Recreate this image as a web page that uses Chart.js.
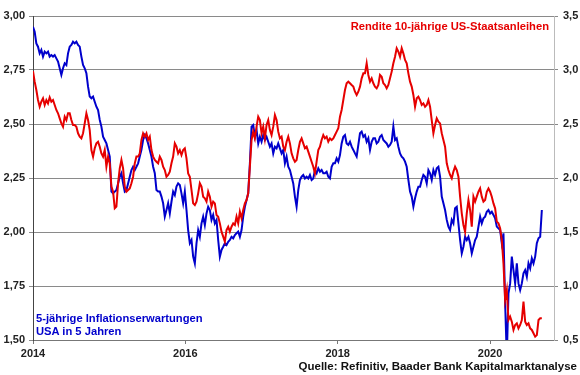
<!DOCTYPE html>
<html>
<head>
<meta charset="utf-8">
<script src="https://cdn.jsdelivr.net/npm/chart.js@4"></script>
<style>
  html, body { margin: 0; padding: 0; background: #fff; }
  #wrap { position: relative; width: 580px; height: 375px; }
  .lbl { position: absolute; font-family: "Liberation Sans", Arial, sans-serif; font-weight: bold; white-space: nowrap; }
  #redLbl { right: 31px; top: 20px; font-size: 11.2px; line-height: 13px; color: #e60000; }
  #blueLbl { left: 36px; top: 312px; font-size: 11.2px; line-height: 13.3px; color: #0000cc; }
  #src { right: 3px; top: 359px; font-size: 11.5px; line-height: 14px; color: #111; }
</style>
</head>
<body>
<div id="wrap">
  <canvas id="c" width="580" height="375"></canvas>
  <div class="lbl" id="redLbl">Rendite 10-jährige US-Staatsanleihen</div>
  <div class="lbl" id="blueLbl">5-jährige Inflationserwartungen<br>USA in 5 Jahren</div>
  <div class="lbl" id="src">Quelle: Refinitiv, Baader Bank Kapitalmarktanalyse</div>
</div>
<script>
// Time base: first observation at start of 2014, one observation every 8 days
const startYear = 2014;
const stepDays = 8;
const yearTicks = [2014, 2016, 2018, 2020];

// 5-year inflation expectations in 5 years (left axis, %)
const inflationExp = [
  2.95, 2.927, 2.873, 2.858, 2.827, 2.843, 2.812, 2.835, 2.827, 2.835,
  2.812, 2.819, 2.812, 2.819, 2.804, 2.789, 2.758, 2.727, 2.758, 2.781,
  2.773, 2.827, 2.858, 2.866, 2.881, 2.873, 2.881, 2.866, 2.858, 2.812,
  2.773, 2.758, 2.735, 2.673, 2.627, 2.619, 2.627, 2.603, 2.580, 2.565,
  2.519, 2.488, 2.441, 2.426, 2.410, 2.380, 2.349, 2.187, 2.179, 2.187,
  2.194, 2.225, 2.256, 2.272, 2.225, 2.187, 2.194, 2.225, 2.256, 2.287,
  2.302, 2.287, 2.302, 2.318, 2.349, 2.380, 2.426, 2.449, 2.434, 2.410,
  2.380, 2.349, 2.302, 2.272, 2.194, 2.187,
  2.187, 2.164, 2.133, 2.071, 2.102, 2.133, 2.086, 2.140, 2.187, 2.171,
  2.210, 2.225, 2.218, 2.179, 2.133, 2.187, 2.102, 2.009, 1.948, 1.963,
  1.886, 1.855, 1.948, 2.009, 1.978, 2.040, 2.071, 2.032, 2.086, 2.117,
  2.102, 2.056, 2.079, 2.040, 2.056, 1.963, 1.886, 1.917, 1.932, 1.948,
  1.940, 1.955, 1.963, 1.978, 1.971, 1.986, 1.994, 2.002, 1.978, 2.009,
  2.071, 2.117, 2.148, 2.179, 2.318, 2.488, 2.495, 2.441, 2.472, 2.410,
  2.441, 2.418, 2.449, 2.426, 2.441, 2.418, 2.395, 2.410, 2.364, 2.395,
  2.387, 2.410, 2.387, 2.364, 2.380, 2.318, 2.349, 2.302,
  2.287, 2.256, 2.225, 2.164, 2.117, 2.194, 2.241, 2.256, 2.264, 2.248,
  2.256, 2.248, 2.264, 2.241, 2.248, 2.287, 2.272, 2.295, 2.279, 2.287,
  2.272, 2.272, 2.279, 2.256, 2.248, 2.302, 2.318, 2.318, 2.341, 2.326,
  2.356, 2.410, 2.441, 2.449, 2.410, 2.403, 2.418, 2.395, 2.380, 2.364,
  2.349, 2.403, 2.457, 2.465, 2.441, 2.449, 2.418, 2.434, 2.380, 2.418,
  2.434, 2.434, 2.410, 2.418, 2.441, 2.449, 2.426, 2.418, 2.410, 2.395,
  2.403, 2.418, 2.488, 2.426, 2.434, 2.395, 2.364, 2.349, 2.341, 2.326,
  2.302, 2.241, 2.187, 2.164, 2.117, 2.156, 2.187, 2.210,
  2.210, 2.241, 2.264, 2.256, 2.225, 2.287, 2.272, 2.241, 2.287, 2.264,
  2.295, 2.302, 2.256, 2.164, 2.133, 2.102, 2.056, 2.025, 2.009, 2.056,
  2.040, 2.110, 2.117, 2.040, 1.963, 1.901, 1.932, 1.978, 1.963, 1.978,
  1.948, 1.901, 1.932, 1.963, 1.978, 2.025, 2.071, 2.040, 2.063, 2.071,
  2.094, 2.102, 2.086, 2.094, 2.079, 2.063, 2.025, 2.017, 2.009, 1.948,
  1.994, 1.670, 1.420, 1.716, 1.762, 1.886, 1.824, 1.762, 1.855, 1.762,
  1.731, 1.762, 1.809, 1.824, 1.793, 1.855, 1.832, 1.878, 1.855, 1.886,
  1.948, 1.971, 1.978, 2.102
];

// 10-year US Treasury yield (right axis, %)
const treasury10y = [
  2.99, 2.892, 2.815, 2.722, 2.660, 2.707, 2.738, 2.676, 2.722, 2.691,
  2.747, 2.707, 2.722, 2.676, 2.630, 2.599, 2.552, 2.506, 2.475, 2.568,
  2.537, 2.599, 2.599, 2.537, 2.491, 2.491, 2.475, 2.414, 2.383, 2.367,
  2.414, 2.506, 2.599, 2.537, 2.444, 2.259, 2.198, 2.275, 2.321, 2.336,
  2.290, 2.228, 2.198, 2.259, 2.105, 2.198, 2.136, 1.920, 1.873, 1.719,
  1.735, 1.951, 2.089, 2.167, 2.089, 1.920, 1.873, 1.889, 1.904, 1.951,
  2.012, 2.136, 2.198, 2.198, 2.228, 2.352, 2.414, 2.383, 2.414, 2.352,
  2.383, 2.259, 2.198, 2.167, 2.151, 2.136,
  2.198, 2.167, 2.105, 2.074, 2.012, 2.028, 2.059, 2.136, 2.198, 2.321,
  2.290, 2.228, 2.259, 2.213, 2.259, 2.275, 2.182, 2.043, 2.012, 1.889,
  1.765, 1.750, 1.781, 1.858, 1.951, 1.920, 1.827, 1.812, 1.781, 1.873,
  1.827, 1.735, 1.781, 1.765, 1.657, 1.642, 1.580, 1.503, 1.457, 1.410,
  1.519, 1.549, 1.503, 1.549, 1.580, 1.565, 1.642, 1.580, 1.688, 1.627,
  1.704, 1.765, 1.796, 1.858, 2.105, 2.352, 2.429, 2.367, 2.475, 2.568,
  2.537, 2.414, 2.475, 2.367, 2.491, 2.537, 2.444, 2.398, 2.475, 2.583,
  2.537, 2.429, 2.367, 2.383, 2.290, 2.259, 2.336, 2.383,
  2.321, 2.228, 2.182, 2.151, 2.167, 2.259, 2.336, 2.367, 2.321, 2.275,
  2.290, 2.244, 2.198, 2.151, 2.105, 2.043, 2.151, 2.259, 2.290, 2.352,
  2.398, 2.367, 2.383, 2.336, 2.367, 2.352, 2.367, 2.398, 2.429, 2.460,
  2.568, 2.630, 2.722, 2.815, 2.877, 2.892, 2.877, 2.861, 2.846, 2.799,
  2.769, 2.799, 2.846, 2.923, 2.969, 2.969, 3.062, 2.954, 2.892, 2.923,
  2.877, 2.846, 2.830, 2.861, 2.954, 2.938, 2.877, 2.861, 2.830, 2.861,
  2.923, 2.985, 3.062, 3.123, 3.201, 3.170, 3.123, 3.201, 3.154, 3.093,
  3.062, 2.969, 2.892, 2.846, 2.769, 2.660, 2.738, 2.753,
  2.722, 2.676, 2.691, 2.660, 2.676, 2.722, 2.660, 2.537, 2.414, 2.491,
  2.552, 2.522, 2.506, 2.414, 2.352, 2.290, 2.136, 2.074, 2.028, 1.997,
  2.059, 2.105, 2.074, 2.012, 1.827, 1.673, 1.565, 1.503, 1.673, 1.796,
  1.704, 1.549, 1.827, 1.781, 1.827, 1.873, 1.904, 1.827, 1.781, 1.796,
  1.873, 1.904, 1.873, 1.827, 1.765, 1.719, 1.596, 1.580, 1.534, 1.426,
  1.210, 0.870, 0.963, 0.685, 0.716, 0.670, 0.593, 0.639, 0.654, 0.608,
  0.639, 0.685, 0.855, 0.670, 0.639, 0.654, 0.608, 0.593, 0.562, 0.531,
  0.546, 0.685, 0.701, 0.701
];

const toXY = arr => arr.map((v, i) => ({ x: startYear + i * stepDays / 365.25, y: v }));
const FONT = { family: "'Liberation Sans', Arial, sans-serif", size: 11, weight: 'bold' };
const comma = (v, d) => Number(v).toFixed(d).replace('.', ',');

new Chart(document.getElementById('c'), {
  type: 'line',
  data: {
    datasets: [
      {
        label: 'Rendite 10-jährige US-Staatsanleihen',
        data: toXY(treasury10y),
        yAxisID: 'y2',
        borderColor: '#e60000',
        borderWidth: 2,
        pointRadius: 0,
        tension: 0,
        fill: false
      },
      {
        label: '5-jährige Inflationserwartungen USA in 5 Jahren',
        data: toXY(inflationExp),
        yAxisID: 'y',
        borderColor: '#0000cc',
        borderWidth: 2,
        pointRadius: 0,
        tension: 0,
        fill: false
      }
    ]
  },
  options: {
    responsive: false,
    animation: false,
    events: [],
    layout: { padding: { top: 16, left: 0, right: 0, bottom: 0 } },
    plugins: { legend: { display: false }, tooltip: { enabled: false } },
    scales: {
      x: {
        type: 'linear',
        min: 2014,
        max: 2020.84,
        afterBuildTicks: s => { s.ticks = yearTicks.map(v => ({ value: v })); },
        afterFit: s => { s.height = 35; },
        ticks: { callback: v => String(v), font: FONT, color: '#222', padding: 3, maxRotation: 0, autoSkip: false },
        grid: { drawOnChartArea: false, drawTicks: true, tickLength: 4, color: '#777' },
        border: { display: true, color: '#777' }
      },
      y: {
        position: 'left',
        min: 1.5,
        max: 3.0,
        afterFit: s => { s.width = 33; },
        ticks: { stepSize: 0.25, callback: v => comma(v, 2), font: FONT, color: '#222', padding: 4 },
        grid: { color: '#8a8a8a', lineWidth: 1, tickLength: 4 },
        border: { display: true, color: '#444' }
      },
      y2: {
        position: 'right',
        min: 0.5,
        max: 3.5,
        afterFit: s => { s.width = 26; },
        ticks: { stepSize: 0.5, callback: v => comma(v, 1), font: FONT, color: '#222', padding: 5 },
        grid: { drawOnChartArea: false, drawTicks: true, tickLength: 4, color: '#888' },
        border: { display: true, color: '#bbb' }
      }
    }
  }
});
</script>
</body>
</html>
